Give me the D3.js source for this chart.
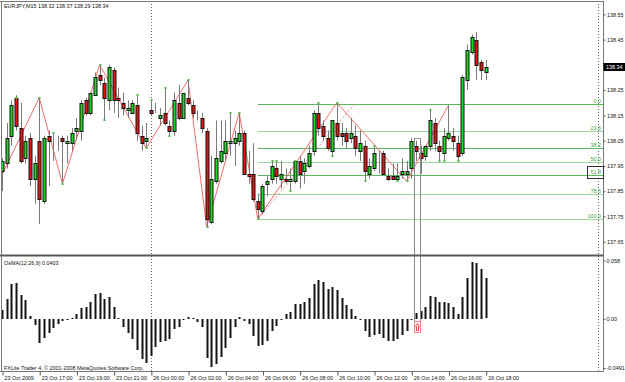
<!DOCTYPE html>
<html>
<head>
<meta charset="utf-8">
<script src="https://cdn.jsdelivr.net/npm/d3@7"></script>
<style>
html, body { margin: 0; padding: 0; background: #fff; }
svg { display: block; font-family: "Liberation Sans", Arial, sans-serif; }
</style>
</head>
<body>
<svg id="chart" width="625" height="382"></svg>
<script>
// EURJPY M15, 23 Oct 15:00 .. 26 Oct 18:00 (one entry per bar)
var symbolTitle = "EURJPY,M15  138.32 138.37 138.29 138.34";
var osmaTitle = "OsMA(12,26,9) 0.0403";
var copyright = "FXLite Trader 4, \u00a9 2001-2008 MetaQuotes Software Corp.";

var openP = [137.93,137.96,138.07,138.22,138.10,137.98,138.06,137.90,138.05,137.81,
  138.07,138.07,138.05,138.06,138.04,138.04,138.09,138.09,138.21,138.16,
  138.23,138.31,138.28,138.21,138.33,138.22,138.20,138.17,138.16,138.19,
  138.07,138.05,138.17,138.18,138.14,138.16,138.11,138.09,138.20,138.14,
  138.22,138.19,138.15,138.14,138.09,137.73,137.89,137.97,138.00,138.04,
  138.04,138.05,138.08,137.92,137.92,137.81,137.77,137.88,137.90,137.94,
  137.90,137.90,137.89,137.89,137.97,137.93,137.95,138.01,138.16,138.11,
  138.06,138.01,138.12,138.08,138.08,138.06,138.07,138.01,138.03,137.92,
  137.94,137.99,138.00,137.91,137.91,137.90,137.92,137.92,137.94,138.03,
  138.00,137.99,138.03,138.12,138.03,138.00,138.06,138.07,138.04,138.00,
  138.29,138.40,138.45,138.36,138.32];
var highP = [137.98,138.12,138.21,138.23,138.20,138.07,138.08,137.99,138.22,138.07,
  138.09,138.08,138.07,138.07,138.07,138.10,138.14,138.21,138.22,138.24,
  138.32,138.35,138.30,138.35,138.34,138.26,138.24,138.21,138.21,138.23,
  138.11,138.12,138.21,138.20,138.18,138.26,138.13,138.24,138.27,138.24,
  138.29,138.21,138.17,138.16,138.10,137.99,138.13,138.13,138.13,138.16,
  138.09,138.16,138.09,138.01,138.04,137.84,137.88,137.91,137.97,137.97,
  137.97,137.94,137.94,137.97,137.99,137.98,138.03,138.17,138.20,138.13,
  138.09,138.13,138.20,138.12,138.10,138.14,138.11,138.09,138.05,137.98,
  138.03,138.01,138.01,137.94,137.96,137.96,137.98,137.97,138.06,138.05,
  138.03,138.03,138.17,138.14,138.05,138.10,138.19,138.10,138.07,138.31,
  138.43,138.47,138.48,138.37,138.37];
var lowP = [137.85,137.94,138.03,138.09,137.96,137.96,137.87,137.80,137.72,137.80,
  137.87,137.97,138.01,137.88,137.96,138.01,138.05,138.05,138.15,138.15,
  138.23,138.27,138.13,138.17,138.16,138.14,138.15,138.14,138.16,138.05,
  138.01,138.02,138.15,138.16,138.11,138.11,138.07,138.07,138.13,138.14,
  138.19,138.14,138.13,138.08,137.71,137.72,137.88,137.96,137.97,137.99,
  137.95,138.03,137.92,137.88,137.81,137.74,137.76,137.83,137.88,137.88,
  137.86,137.88,137.85,137.88,137.86,137.88,137.94,137.99,138.07,138.05,
  138.01,137.99,138.05,138.03,138.02,138.04,137.99,137.97,137.89,137.90,
  137.93,137.92,137.92,137.89,137.90,137.89,137.90,137.89,137.90,137.97,
  137.92,137.97,138.01,138.01,137.97,137.97,138.05,138.01,137.97,137.99,
  138.25,138.39,138.29,138.29,138.29];
var closeP = [137.97,138.06,138.19,138.11,137.97,138.05,137.90,137.96,137.82,138.06,
  138.05,138.07,138.05,138.05,138.05,138.08,138.10,138.20,138.16,138.24,
  138.30,138.29,138.22,138.34,138.21,138.21,138.18,138.18,138.20,138.08,
  138.04,138.06,138.16,138.18,138.15,138.12,138.09,138.21,138.14,138.24,
  138.20,138.16,138.15,138.10,137.74,137.90,137.98,138.01,138.05,138.05,
  138.06,138.08,137.92,137.91,137.82,137.78,137.87,137.89,137.95,137.91,
  137.92,137.89,137.90,137.97,137.92,137.96,138.00,138.16,138.10,138.07,
  138.02,138.13,138.07,138.07,138.05,138.08,138.02,138.04,137.93,137.95,
  138.00,137.99,137.92,137.90,137.90,137.91,137.93,137.93,138.05,138.01,
  137.98,138.03,138.13,138.04,138.01,138.07,138.08,138.05,137.99,138.30,
  138.41,138.46,138.35,138.33,138.34];

var osma = [0.009,0.020,0.035,0.036,0.024,0.019,0.003,-0.006,-0.024,-0.019,
  -0.014,-0.009,-0.005,-0.002,-0.001,0.001,0.005,0.011,0.012,0.017,
  0.025,0.026,0.020,0.022,0.012,0.001,-0.008,-0.014,-0.020,-0.031,
  -0.040,-0.044,-0.037,-0.028,-0.023,-0.022,-0.020,-0.010,-0.008,0.000,
  0.002,0.001,-0.003,-0.008,-0.039,-0.048,-0.045,-0.038,-0.029,-0.019,
  -0.008,0.002,-0.002,-0.005,-0.017,-0.027,-0.026,-0.022,-0.012,-0.007,
  0.000,0.005,0.007,0.015,0.015,0.017,0.021,0.035,0.039,0.037,
  0.030,0.032,0.029,0.021,0.014,0.010,0.003,-0.001,-0.012,-0.018,
  -0.016,-0.015,-0.019,-0.022,-0.022,-0.020,-0.016,-0.012,0.000,0.006,
  0.008,0.012,0.023,0.022,0.017,0.017,0.016,0.012,0.005,0.022,
  0.041,0.057,0.056,0.050,0.0403];

var timeTicks = [0, 8, 16, 24, 32, 40, 48, 56, 64, 72, 80, 88, 96, 104];
var timeLabels = ["23 Oct 2009", "23 Oct 17:00", "23 Oct 19:00", "23 Oct 21:00",
  "26 Oct 00:00", "26 Oct 02:00", "26 Oct 04:00", "26 Oct 06:00", "26 Oct 08:00",
  "26 Oct 10:00", "26 Oct 12:00", "26 Oct 14:00", "26 Oct 16:00", "26 Oct 18:00"];
var priceTicks = [138.55, 138.45, 138.35, 138.25, 138.15, 138.05, 137.95, 137.85, 137.75, 137.65];
var osmaTicks = [0.058, 0, -0.0491];
var osmaTickLabels = ["0.058", "0.00", "-0.0491"];

// zigzag turning points [bar, price]
var zigzag = [[-3,137.80],[8,138.22],[13,137.88],[21,138.35],[31,138.02],[40,138.29],
  [44,137.71],[51,138.16],[55,137.74],[72,138.20],[87,137.89],[96,138.19]];
var zigzagGuide = [[55,137.74],[76,138.20]];
var pivots = [[3,138.22],[8,138.22],[11,138.08],[13,137.88],[21,138.35],[22,138.13],
  [29,138.23],[31,138.02],[32,138.21],[35,138.26],[36,138.07],[40,138.29],[44,137.71],
  [49,138.16],[51,138.16],[55,137.74],[58,137.97],[59,137.97],[62,137.85],[63,137.97],
  [68,138.20],[71,137.99],[72,138.20],[78,137.89],[80,138.03],[85,137.89],[87,137.89],
  [92,138.17],[94,137.97],[95,137.97],[98,137.97]];

var fibLevels = [0, 23.6, 38.2, 50.0, 61.8, 78.6, 100.0];
var fibHigh = 138.195, fibLow = 137.74, fibStartBar = 55;
var markBars = [88.6, 89.8], markTop = 138.06, markBottom = -0.013, markArrowTop = -0.002;
var lastPrice = 138.34;

var svg = d3.select("#chart");
var W = 625, H = 382;
var right = 603.5, bottom = 371.5, sepY = 255.5;

var x = d3.scaleLinear().domain([0, 104]).range([2, 485.7]);
var y = d3.scaleLinear().domain([137.65, 138.55]).range([241.8, 14.3]);
var yo = d3.scaleLinear().domain([-0.0491, 0.058]).range([368, 260.7]);

var cx = function(i) { return Math.round(x(i)); };

svg.append("rect").attr("width", W).attr("height", H).attr("fill", "#fff");

var defs = svg.append("defs");
defs.append("clipPath").attr("id", "mainclip")
  .append("rect").attr("x", 2).attr("y", 2).attr("width", right - 2).attr("height", sepY - 3);

// day separator and shift marker
[x(32), 598].forEach(function(v) {
  svg.append("line")
    .attr("x1", Math.round(v) + 0.5).attr("x2", Math.round(v) + 0.5)
    .attr("y1", 1).attr("y2", bottom)
    .attr("stroke", "#666").attr("stroke-dasharray", "1,2");
});

var main = svg.append("g").attr("clip-path", "url(#mainclip)");

// fibonacci levels
var fibY = function(l) { return y(fibHigh - (fibHigh - fibLow) * l / 100); };
main.selectAll("line.fib").data(fibLevels).join("line")
  .attr("x1", x(fibStartBar)).attr("x2", right)
  .attr("y1", function(d) { return Math.round(fibY(d)) + 0.5; })
  .attr("y2", function(d) { return Math.round(fibY(d)) + 0.5; })
  .attr("stroke", function(d, i) { return i % 2 === 0 && d !== 100 ? "#5cb85c" : "#9ed79e"; })
  .attr("stroke-width", 1);
main.selectAll("text.fib").data(fibLevels).join("text")
  .attr("x", 601).attr("y", function(d) { return Math.round(fibY(d)) - 1; })
  .attr("text-anchor", "end").attr("font-size", 5.4).attr("fill", "#3f9f3f")
  .text(function(d) { return d.toFixed(1); });

// zigzag
var line = d3.line().x(function(d) { return x(d[0]); }).y(function(d) { return y(d[1]); });
main.append("path").datum(zigzag).attr("d", line)
  .attr("fill", "none").attr("stroke", "#f05a5a").attr("stroke-width", 0.9);
main.append("path").datum(zigzagGuide).attr("d", line)
  .attr("fill", "none").attr("stroke", "#f48080").attr("stroke-width", 0.9)
  .attr("stroke-dasharray", "2,2");

// candles
var bars = d3.range(openP.length).map(function(i) {
  return {i: i, o: openP[i], h: highP[i], l: lowP[i], c: closeP[i]};
});
main.selectAll("line.wick").data(bars).join("line")
  .attr("x1", function(d) { return cx(d.i) + 0.5; })
  .attr("x2", function(d) { return cx(d.i) + 0.5; })
  .attr("y1", function(d) { return y(d.h); })
  .attr("y2", function(d) { return y(d.l); })
  .attr("stroke", "#7a7a7a").attr("stroke-width", 1);
main.selectAll("rect.body").data(bars).join("rect")
  .attr("x", function(d) { return cx(d.i) - 1; })
  .attr("width", 3)
  .attr("y", function(d) { return Math.round(y(Math.max(d.o, d.c))) + 0.5; })
  .attr("height", function(d) { return Math.max(0, Math.round(y(Math.min(d.o, d.c))) - Math.round(y(Math.max(d.o, d.c)))); })
  .attr("fill", function(d) { return d.c >= d.o ? "#1fd81f" : "#e81414"; })
  .attr("stroke", "#111").attr("stroke-width", 1);

// pivot dots
main.selectAll("rect.pivot").data(pivots).join("rect")
  .attr("x", function(d) { return cx(d[0]) - 0.5; })
  .attr("y", function(d) { return Math.round(y(d[1])) - 1; })
  .attr("width", 2).attr("height", 2)
  .attr("fill", "#4cb84c");

// osma histogram
svg.append("g").selectAll("rect").data(osma).join("rect")
  .attr("x", function(d, i) { return cx(i) - 0.5; })
  .attr("width", 2)
  .attr("y", function(d) { return Math.round(yo(Math.max(d, 0))); })
  .attr("height", function(d) { return Math.max(1, Math.round(Math.abs(yo(d) - yo(0)))); })
  .attr("fill", "#141414");

// marked rectangle spanning both panes
svg.append("rect")
  .attr("x", Math.round(x(markBars[0])) + 0.5).attr("y", Math.round(y(markTop)) + 0.5)
  .attr("width", Math.round(x(markBars[1]) - x(markBars[0])))
  .attr("height", Math.round(yo(markBottom) - y(markTop)))
  .attr("fill", "none").attr("stroke", "#8c8c8c");
var ax = Math.round(x(markBars[0])) + 0.5, aw = Math.round(x(markBars[1]) - x(markBars[0]));
var at = Math.round(yo(markArrowTop)) + 0.5, ab = Math.round(yo(markBottom)) + 0.5;
svg.append("rect").attr("x", ax).attr("y", at).attr("width", aw).attr("height", ab - at)
  .attr("fill", "#fff").attr("stroke", "#f08a8a");
var am = ax + aw / 2;
svg.append("path")
  .attr("d", "M" + am + "," + (at + 2) + "L" + (am + 2) + "," + (at + 5) + "L" + (am + 1) + "," + (at + 5) +
    "L" + (am + 1) + "," + (ab - 2) + "L" + (am - 1) + "," + (ab - 2) + "L" + (am - 1) + "," + (at + 5) +
    "L" + (am - 2) + "," + (at + 5) + "Z")
  .attr("fill", "#fff").attr("stroke", "#e02020").attr("stroke-width", 0.8);

// frame
svg.append("line").attr("x1", 0).attr("x2", right).attr("y1", 1.5).attr("y2", 1.5).attr("stroke", "#777");
svg.append("line").attr("x1", 1.5).attr("x2", 1.5).attr("y1", 1).attr("y2", bottom).attr("stroke", "#777");
svg.append("line").attr("x1", right).attr("x2", right).attr("y1", 1).attr("y2", bottom).attr("stroke", "#777");
svg.append("line").attr("x1", 0).attr("x2", right).attr("y1", bottom).attr("y2", bottom).attr("stroke", "#777");
svg.append("line").attr("x1", 0).attr("x2", right).attr("y1", sepY).attr("y2", sepY)
  .attr("stroke", "#5a5a5a").attr("stroke-width", 2);

// axes; the tick label hidden under the last-price box is left out
var visiblePriceTicks = priceTicks.filter(function(p) { return Math.abs(y(p) - y(lastPrice)) > 6; });
var pAxis = svg.append("g").attr("transform", "translate(" + right + ",0)")
  .call(d3.axisRight(y).tickValues(visiblePriceTicks).tickSize(2).tickPadding(1.5).tickFormat(d3.format(".2f")));
var oAxis = svg.append("g").attr("transform", "translate(" + right + ",0)")
  .call(d3.axisRight(yo).tickValues(osmaTicks).tickSize(2).tickPadding(1)
    .tickFormat(function(d, i) { return osmaTickLabels[i]; }));
var tAxis = svg.append("g").attr("transform", "translate(0," + bottom + ")")
  .call(d3.axisBottom(x).tickValues(timeTicks).tickSize(4)
    .tickFormat(function(d, i) { return timeLabels[i]; }));
[pAxis, oAxis, tAxis].forEach(function(a) {
  a.select(".domain").remove();
  a.selectAll("line").attr("stroke", "#555");
  a.selectAll("text").attr("font-size", 5.4).attr("fill", "#111").attr("font-family", "Liberation Sans, Arial, sans-serif");
});
tAxis.selectAll(".tick line").attr("transform", "translate(0.5,0)");
tAxis.selectAll("text").attr("text-anchor", "start").attr("x", 2).attr("y", 5);

// current price label
svg.append("rect").attr("x", right).attr("y", Math.round(y(lastPrice)) - 4).attr("width", W - right).attr("height", 8)
  .attr("fill", "#000");
svg.append("text").attr("x", 606).attr("y", Math.round(y(lastPrice)) + 2)
  .attr("font-size", 5.4).attr("fill", "#fff").text(lastPrice.toFixed(2));

// 61.8 label frame
var f618 = Math.round(fibY(61.8));
svg.append("rect").attr("x", 587.5).attr("y", f618 - 8.5).attr("width", 16).attr("height", 12)
  .attr("fill", "none").attr("stroke", "#333");

// titles
svg.append("text").attr("x", 4).attr("y", 8.3).attr("font-size", 5.4).attr("fill", "#111").text(symbolTitle);
svg.append("text").attr("x", 4).attr("y", 265).attr("font-size", 5.4).attr("fill", "#111").text(osmaTitle);
svg.append("text").attr("x", 4).attr("y", 369.5).attr("font-size", 5.4).attr("fill", "#111").text(copyright);
</script>
</body>
</html>
